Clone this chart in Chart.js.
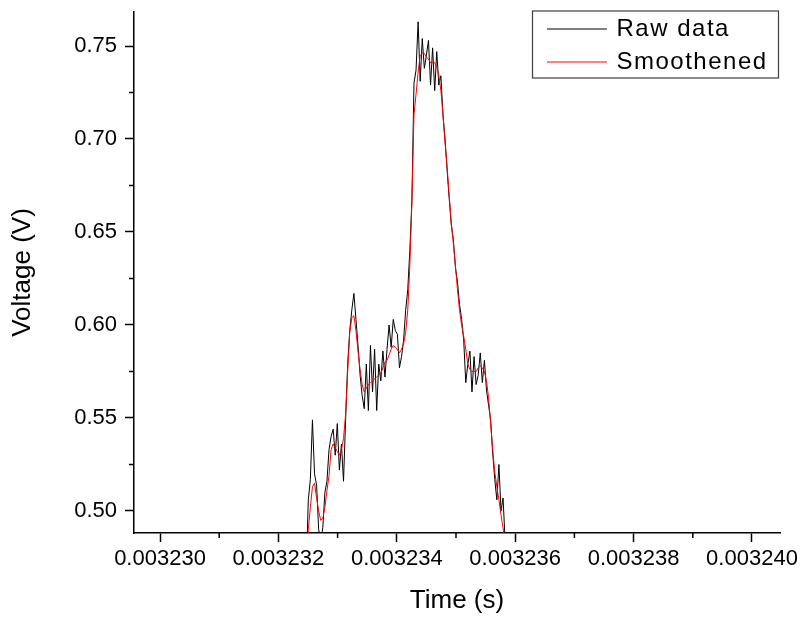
<!DOCTYPE html>
<html>
<head>
<meta charset="utf-8">
<title>Voltage vs time</title>
<script src="https://cdn.jsdelivr.net/npm/chart.js@4.4.1/dist/chart.umd.min.js"></script>
<style>
    body { margin: 0; background: #fff; }
    canvas { display: block; }
</style>
</head>
<body>
<canvas id="myChart" width="802" height="618"></canvas>
<script>
const $ = (selector)=>{
    return document.querySelector(selector);
}

//sample times in seconds
const times = [
    0.003232400, 0.003232435, 0.003232470, 0.003232505, 0.003232540, 0.003232575, 0.003232610, 0.003232645, 0.003232680, 0.003232715,
    0.003232750, 0.003232785, 0.003232820, 0.003232855, 0.003232890, 0.003232925, 0.003232960, 0.003232995, 0.003233030, 0.003233065,
    0.003233100, 0.003233135, 0.003233170, 0.003233205, 0.003233240, 0.003233275, 0.003233310, 0.003233345, 0.003233380, 0.003233415,
    0.003233450, 0.003233485, 0.003233520, 0.003233555, 0.003233590, 0.003233625, 0.003233660, 0.003233695, 0.003233730, 0.003233765,
    0.003233800, 0.003233835, 0.003233870, 0.003233905, 0.003233940, 0.003233975, 0.003234010, 0.003234045, 0.003234080, 0.003234115,
    0.003234150, 0.003234185, 0.003234220, 0.003234255, 0.003234290, 0.003234325, 0.003234360, 0.003234395, 0.003234430, 0.003234465,
    0.003234500, 0.003234535, 0.003234570, 0.003234605, 0.003234640, 0.003234675, 0.003234710, 0.003234745, 0.003234780, 0.003234815,
    0.003234850, 0.003234885, 0.003234920, 0.003234955, 0.003234990, 0.003235025, 0.003235060, 0.003235095, 0.003235130, 0.003235165,
    0.003235200, 0.003235235, 0.003235270, 0.003235305, 0.003235340, 0.003235375, 0.003235410, 0.003235445, 0.003235480, 0.003235515,
    0.003235550, 0.003235585, 0.003235620, 0.003235655, 0.003235690, 0.003235725, 0.003235760, 0.003235795, 0.003235830, 0.003235865,
    0.003235900
];

//measured voltage (V)
const rawVolts = [
    0.440, 0.452, 0.468, 0.506, 0.517, 0.549, 0.520, 0.514, 0.490, 0.484,
    0.491, 0.510, 0.516, 0.533, 0.540, 0.544, 0.530, 0.547, 0.522, 0.536,
    0.516, 0.549, 0.579, 0.597, 0.608, 0.617, 0.603, 0.589, 0.573, 0.562,
    0.555, 0.579, 0.554, 0.589, 0.564, 0.587, 0.554, 0.579, 0.570, 0.586,
    0.572, 0.587, 0.600, 0.588, 0.603, 0.597, 0.595, 0.577, 0.583, 0.592,
    0.608, 0.619, 0.640, 0.667, 0.730, 0.737, 0.763, 0.731, 0.754, 0.738,
    0.745, 0.753, 0.729, 0.749, 0.726, 0.747, 0.729, 0.734, 0.713, 0.700,
    0.683, 0.668, 0.654, 0.646, 0.631, 0.623, 0.611, 0.603, 0.592, 0.569,
    0.579, 0.586, 0.564, 0.583, 0.568, 0.573, 0.585, 0.569, 0.581, 0.565,
    0.557, 0.549, 0.531, 0.517, 0.506, 0.525, 0.500, 0.507, 0.484, 0.465,
    0.450
];

//smoothed voltage (V)
const smoothVolts = [
    0.440, 0.450, 0.466, 0.490, 0.502, 0.513, 0.515, 0.507, 0.500, 0.495,
    0.496, 0.502, 0.511, 0.519, 0.533, 0.536, 0.534, 0.532, 0.530, 0.533,
    0.539, 0.552, 0.575, 0.596, 0.604, 0.605, 0.597, 0.586, 0.576, 0.568,
    0.564, 0.566, 0.568, 0.569, 0.570, 0.571, 0.572, 0.573, 0.574, 0.577,
    0.580, 0.581, 0.584, 0.587, 0.589, 0.588, 0.587, 0.585, 0.587, 0.590,
    0.596, 0.608, 0.632, 0.666, 0.713, 0.724, 0.736, 0.745, 0.746, 0.746,
    0.744, 0.743, 0.741, 0.741, 0.741, 0.739, 0.734, 0.726, 0.713, 0.698,
    0.685, 0.670, 0.655, 0.644, 0.632, 0.619, 0.608, 0.600, 0.594, 0.587,
    0.579, 0.576, 0.575, 0.575, 0.575, 0.577, 0.578, 0.577, 0.575, 0.570,
    0.561, 0.547, 0.533, 0.521, 0.513, 0.506, 0.498, 0.491, 0.482, 0.468,
    0.452
];

const seriesLabels = ['Raw data', 'Smoothened'];
const xTitle = 'Time (s)';
const yTitle = 'Voltage (V)';

const xMajorTicks = [0.003230, 0.003232, 0.003234, 0.003236, 0.003238, 0.003240];
const xMinorTicks = [0.003231, 0.003233, 0.003235, 0.003237, 0.003239];
const yMajorTicks = [0.50, 0.55, 0.60, 0.65, 0.70, 0.75];
const yMinorTicks = [0.525, 0.575, 0.625, 0.675, 0.725];

const FONT = 'Arial, "Liberation Sans", sans-serif';

//pairs each time with its voltage for the linear x axis
const toPoints = (vals)=> times.map((t, i)=>({x: t, y: vals[i]}));

//short unlabelled ticks between the labelled ones
const minorTicks = {
    id: 'minorTicks',
    afterDraw(chart){
        const ctx = chart.ctx;
        const xs = chart.scales.x;
        const ys = chart.scales.y;
        ctx.save();
        ctx.strokeStyle = '#000';
        ctx.lineWidth = 1.5;
        ctx.beginPath();
        xMinorTicks.forEach((v)=>{
            const px = xs.getPixelForValue(v);
            ctx.moveTo(px, xs.top);
            ctx.lineTo(px, xs.top + 5);
        });
        yMinorTicks.forEach((v)=>{
            const py = ys.getPixelForValue(v);
            ctx.moveTo(ys.right, py);
            ctx.lineTo(ys.right - 5, py);
        });
        ctx.stroke();
        ctx.restore();
    }
}

//boxed legend in the top right corner of the plot
const boxLegend = {
    id: 'boxLegend',
    afterDatasetsDraw(chart){
        const ctx = chart.ctx;
        const area = chart.chartArea;
        const w = 246, h = 67;
        const left = area.right - w - 1.5;
        const top = area.top - 1;
        ctx.save();
        ctx.fillStyle = '#fff';
        ctx.fillRect(left, top, w, h);
        ctx.strokeStyle = '#404040';
        ctx.lineWidth = 1.2;
        ctx.strokeRect(left, top, w, h);
        ctx.font = '24px ' + FONT;
        ctx.letterSpacing = '1.5px';
        ctx.textBaseline = 'middle';
        ctx.fillStyle = '#000';
        chart.data.datasets.forEach((ds, i)=>{
            const cy = top + 18 + i * 33;
            ctx.strokeStyle = ds.borderColor;
            ctx.lineWidth = 1;
            ctx.beginPath();
            ctx.moveTo(left + 14.5, cy);
            ctx.lineTo(left + 74.5, cy);
            ctx.stroke();
            ctx.fillText(ds.label, left + 84, cy);
        });
        ctx.restore();
    }
}

const axisStyle = {
    grid: {drawOnChartArea: false, drawTicks: true, tickLength: 9, tickColor: '#000', tickWidth: 1.5},
    border: {display: true, color: '#000', width: 1.5}
}

new Chart($('#myChart').getContext('2d'), {
    type: 'line',
    data: {
        datasets: [
            {label: seriesLabels[0], data: toPoints(rawVolts), borderColor: '#000000', borderWidth: 1, pointRadius: 0, order: 2},
            {label: seriesLabels[1], data: toPoints(smoothVolts), borderColor: '#ff0000', borderWidth: 1, pointRadius: 0, order: 1}
        ]
    },
    options: {
        responsive: false,
        animation: false,
        layout: {padding: {top: 12, right: 22, left: 0, bottom: 0}},
        plugins: {legend: {display: false}, tooltip: {enabled: false}},
        scales: {
            x: {
                type: 'linear',
                min: 0.0032295606,
                max: 0.0032404732,
                afterBuildTicks: (scale)=>{ scale.ticks = xMajorTicks.map((v)=>({value: v})); },
                //fixed height, and no extra room for the end labels
                afterFit: (scale)=>{
                    scale.height = 85;
                    scale.paddingLeft = 0;
                    scale.paddingRight = 0;
                },
                ticks: {callback: (v)=> v.toFixed(6), font: {family: FONT, size: 22}, color: '#000', padding: 4, maxRotation: 0, autoSkip: false},
                grid: axisStyle.grid,
                border: axisStyle.border,
                title: {display: true, text: xTitle, font: {family: FONT, size: 26}, color: '#000', padding: {top: 0, bottom: 2}}
            },
            y: {
                type: 'linear',
                min: 0.48817,
                max: 0.76828,
                afterBuildTicks: (scale)=>{ scale.ticks = yMajorTicks.map((v)=>({value: v})); },
                afterFit: (scale)=>{
                    scale.width = 134;
                    scale.paddingTop = 0;
                    scale.paddingBottom = 0;
                },
                ticks: {callback: (v)=> v.toFixed(2), font: {family: FONT, size: 22}, color: '#000', padding: 8},
                grid: axisStyle.grid,
                border: axisStyle.border,
                title: {display: true, text: yTitle, font: {family: FONT, size: 26}, color: '#000', padding: {top: 7, bottom: 0}}
            }
        }
    },
    plugins: [minorTicks, boxLegend]
});
</script>
</body>
</html>
